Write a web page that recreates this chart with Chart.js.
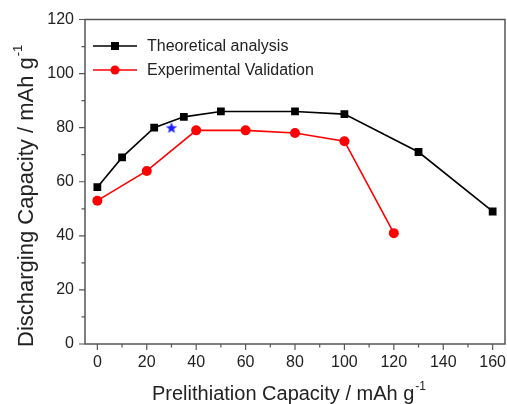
<!DOCTYPE html>
<html>
<head>
<meta charset="utf-8">
<script src="https://cdn.jsdelivr.net/npm/chart.js@4/dist/chart.umd.min.js"></script>
<style>
html,body{margin:0;padding:0;background:#fff;}
#wrap{width:507px;height:404px;position:relative;}
</style>
</head>
<body>
<div id="wrap"><canvas id="c" width="507" height="404"></canvas></div>
<script>
const theoX = [0, 10, 23, 35, 50, 80, 100, 130, 160];
const theoY = [58, 69, 80, 84, 86, 86, 85, 71, 49];
const expX = [0, 20, 40, 60, 80, 100, 120];
const expY = [53, 64, 79, 79, 78, 75, 41];
const starX = [30];
const starY = [80];
const xTicks = [0, 20, 40, 60, 80, 100, 120, 140, 160];
const yTicks = [0, 20, 40, 60, 80, 100, 120];
const xMinor = [10, 30, 50, 70, 90, 110, 130, 150];
const yMinor = [10, 30, 50, 70, 90, 110];
const seriesNames = ['Theoretical analysis', 'Experimental Validation'];
const xTitle = 'Prelithiation Capacity / mAh g';
const yTitle = 'Discharging Capacity / mAh g';

const FONT = '"Liberation Sans", Arial, sans-serif';
const AXC = '#555';

// filled five-point star marker
const starImg = document.createElement('canvas');
starImg.width = 12; starImg.height = 12;
(function () {
  const g = starImg.getContext('2d');
  g.fillStyle = '#1a1aff';
  g.beginPath();
  for (let i = 0; i < 10; i++) {
    const r = i % 2 === 0 ? 6 : 2.5;
    const a = -Math.PI / 2 + i * Math.PI / 5;
    const px = 6 + r * Math.cos(a), py = 6.5 + r * Math.sin(a);
    if (i === 0) g.moveTo(px, py); else g.lineTo(px, py);
  }
  g.closePath();
  g.fill();
})();

const framePlugin = {
  id: 'frame',
  afterDraw(chart) {
    const ctx = chart.ctx, a = chart.chartArea;
    const xs = chart.scales.x, ys = chart.scales.y;
    ctx.save();
    ctx.strokeStyle = AXC;
    ctx.lineWidth = 1.5;
    ctx.strokeRect(a.left, a.top, a.right - a.left, a.bottom - a.top);
    ctx.lineWidth = 1.2;
    ctx.beginPath();
    xTicks.forEach(v => { const p = xs.getPixelForValue(v); ctx.moveTo(p, a.bottom); ctx.lineTo(p, a.bottom + 6); });
    xMinor.forEach(v => { const p = xs.getPixelForValue(v); ctx.moveTo(p, a.bottom); ctx.lineTo(p, a.bottom + 3.5); });
    yTicks.forEach(v => { const p = ys.getPixelForValue(v); ctx.moveTo(a.left, p); ctx.lineTo(a.left - 6, p); });
    yMinor.forEach(v => { const p = ys.getPixelForValue(v); ctx.moveTo(a.left, p); ctx.lineTo(a.left - 3.5, p); });
    ctx.stroke();

    // x tick labels
    ctx.fillStyle = '#222';
    ctx.font = '16px ' + FONT;
    ctx.textAlign = 'center';
    ctx.textBaseline = 'top';
    xTicks.forEach(v => ctx.fillText(String(v), xs.getPixelForValue(v), a.bottom + 11));

    // axis titles
    ctx.textBaseline = 'alphabetic';
    ctx.textAlign = 'left';
    ctx.font = '20px ' + FONT;
    const xw = ctx.measureText(xTitle).width;
    const xStart = 152;
    ctx.fillText(xTitle, xStart, 400);
    ctx.font = '12px ' + FONT;
    ctx.fillText('-1', xStart + xw + 1, 390);

    ctx.save();
    ctx.translate(33, 347);
    ctx.rotate(-Math.PI / 2);
    ctx.font = '22px ' + FONT;
    const yw = ctx.measureText(yTitle).width;
    ctx.fillText(yTitle, 0, 0);
    ctx.font = '13px ' + FONT;
    ctx.fillText('-1', yw + 1, -11);
    ctx.restore();

    // legend
    const rows = [
      {y: 46, color: '#000', shape: 'rect', name: seriesNames[0]},
      {y: 70, color: '#ff0000', shape: 'circle', name: seriesNames[1]}
    ];
    ctx.font = '16px ' + FONT;
    ctx.textBaseline = 'middle';
    rows.forEach(r => {
      ctx.strokeStyle = r.color;
      ctx.lineWidth = 1.5;
      ctx.beginPath();
      ctx.moveTo(93, r.y); ctx.lineTo(137, r.y);
      ctx.stroke();
      ctx.fillStyle = r.color;
      if (r.shape === 'rect') { ctx.fillRect(111, r.y - 4, 8, 8); }
      else { ctx.beginPath(); ctx.arc(115, r.y, 4.5, 0, Math.PI * 2); ctx.fill(); }
      ctx.fillStyle = '#222';
      ctx.fillText(r.name, 147, r.y + 1);
    });
    ctx.restore();
  }
};

new Chart(document.getElementById('c'), {
  type: 'scatter',
  data: {
    datasets: [
      {
        label: seriesNames[0],
        data: theoX.map((x, i) => ({x, y: theoY[i]})),
        showLine: true,
        borderColor: '#000',
        backgroundColor: '#000',
        borderWidth: 1.6,
        pointStyle: 'rect',
        pointRadius: 5.5,
        pointBorderWidth: 0
      },
      {
        label: seriesNames[1],
        data: expX.map((x, i) => ({x, y: expY[i]})),
        showLine: true,
        borderColor: '#ff0000',
        backgroundColor: '#ff0000',
        borderWidth: 1.6,
        pointStyle: 'circle',
        pointRadius: 5,
        pointBorderWidth: 0
      },
      {
        label: 'star',
        data: starX.map((x, i) => ({x, y: starY[i]})),
        showLine: false,
        pointStyle: starImg,
        pointRadius: 6
      }
    ]
  },
  options: {
    responsive: false,
    animation: false,
    devicePixelRatio: 1,
    layout: {autoPadding: false, padding: {top: 19.5, right: 2, left: 0, bottom: 0}},
    plugins: {legend: {display: false}, tooltip: {enabled: false}},
    scales: {
      x: {
        type: 'linear', min: -5, max: 165,
        afterBuildTicks: s => { s.ticks = xTicks.map(v => ({value: v})); },
        afterFit: s => { s.height = 60; s.paddingRight = 0; s.paddingLeft = 0; },
        grid: {display: false, drawTicks: false},
        border: {display: false},
        ticks: {display: false}
      },
      y: {
        type: 'linear', min: 0, max: 120,
        afterBuildTicks: s => { s.ticks = yTicks.map(v => ({value: v})); },
        afterFit: s => { s.width = 85; s.paddingTop = 0; s.paddingBottom = 0; },
        grid: {display: false, drawTicks: false},
        border: {display: false},
        ticks: {color: '#222', font: {family: FONT, size: 16}, padding: 11, autoSkip: false}
      }
    }
  },
  plugins: [framePlugin]
});
</script>
</body>
</html>
